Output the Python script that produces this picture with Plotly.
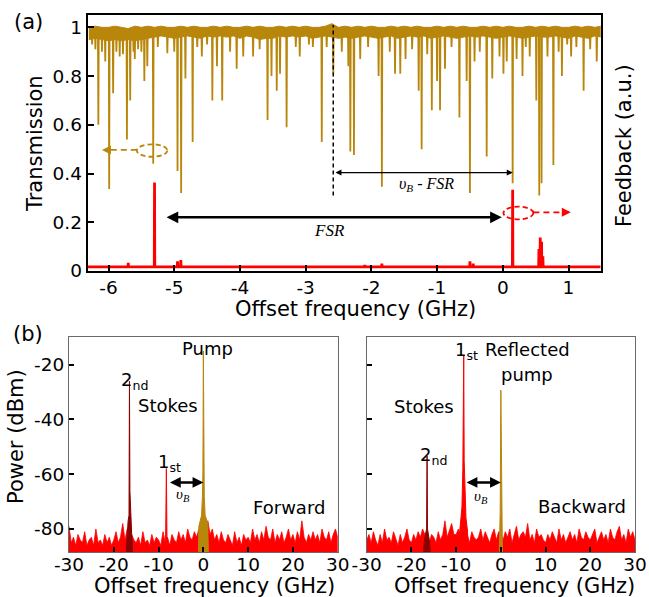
import plotly.graph_objects as go

W, H = 649, 597
GOLD = "#B8860B"
RED = "#FF0000"
DARKRED = "#8B0000"
FONT = "DejaVu Sans"

# ---------------- Panel (a) data ----------------
band_start, band_step = -6.30, 0.10
band_upper = [
    1.00, 1.005, 1.00, 1.00, 1.005, 1.00, 0.995, 1.005, 1.00, 1.005,
    1.00, 1.005, 1.00, 1.00, 1.005, 1.00, 1.005, 1.00, 1.00, 1.005,
    1.00, 1.005, 1.00, 1.00, 1.005, 1.00, 1.005, 1.00, 1.00, 1.005,
    1.00, 1.005, 1.00, 1.005, 1.00, 1.00, 1.005, 1.015, 1.00, 1.005,
    1.00, 1.005, 1.00, 1.005, 1.00, 1.00, 1.005, 1.00, 1.005, 1.00,
    1.005, 1.00, 1.00, 1.005, 1.00, 1.005, 1.00, 1.005, 1.00, 1.00,
    1.005, 1.00, 1.005, 1.00, 1.005, 1.00, 1.00, 1.005, 1.00, 1.005,
    1.00, 1.005, 1.00, 1.00, 1.005, 1.00, 1.005, 1.00, 1.005,
]
band_lower = [
    0.95, 0.955, 0.95, 0.945, 0.95, 0.945, 0.95, 0.945, 0.95, 0.955,
    0.96, 0.965, 0.96, 0.955, 0.96, 0.965, 0.96, 0.955, 0.965, 0.96,
    0.965, 0.96, 0.965, 0.955, 0.965, 0.96, 0.95, 0.955, 0.955, 0.965,
    0.96, 0.965, 0.96, 0.965, 0.955, 0.96, 0.965, 0.96, 0.955, 0.96,
    0.955, 0.96, 0.965, 0.96, 0.955, 0.96, 0.965, 0.955, 0.96, 0.965,
    0.96, 0.965, 0.955, 0.96, 0.965, 0.96, 0.955, 0.96, 0.965, 0.96,
    0.965, 0.96, 0.955, 0.96, 0.965, 0.96, 0.955, 0.96, 0.965, 0.96,
    0.96, 0.965, 0.96, 0.955, 0.965, 0.96, 0.955, 0.965, 0.96,
]
dip_freq = [-6.25, -6.20, -6.155, -6.10, -6.05, -5.99, -5.93, -5.88, -5.83, -5.78,
            -5.72, -5.67, -5.62, -5.60, -5.55, -5.50, -5.455, -5.41, -5.32, -5.25,
            -5.105, -5.00, -4.95, -4.895, -4.83, -4.72, -4.65, -4.58, -4.50, -4.42,
            -4.35, -4.27, -4.15, -4.05, -3.95, -3.80, -3.70, -3.58, -3.52, -3.44,
            -3.39, -3.29, -3.15, -3.09, -2.95, -2.89, -2.755, -2.68, -2.58, -2.45,
            -2.35, -2.32, -2.265, -2.17, -2.05, -1.89, -1.84, -1.72, -1.64, -1.56,
            -1.48, -1.38, -1.28, -1.235, -1.15, -1.08, -1.00, -0.955, -0.88, -0.78,
            -0.66, -0.55, -0.50, -0.43, -0.35, -0.245, -0.16, -0.05, 0.01, 0.06,
            0.15, 0.21, 0.30, 0.35, 0.41, 0.51, 0.555, 0.59, 0.68, 0.77,
            0.85, 0.90, 0.98, 1.04, 1.12, 1.23, 1.33, 1.43]
dip_trans = [0.93, 0.91, 0.60, 0.90, 0.86, 0.337, 0.73, 0.90, 0.88, 0.89,
             0.54, 0.70, 0.90, 0.87, 0.91, 0.90, 0.78, 0.84, 0.44, 0.92,
             0.894, 0.90, 0.41, 0.32, 0.79, 0.53, 0.92, 0.88, 0.93, 0.70,
             0.84, 0.70, 0.90, 0.83, 0.88, 0.88, 0.91, 0.62, 0.80, 0.74,
             0.81, 0.59, 0.92, 0.88, 0.93, 0.92, 0.53, 0.92, 0.81, 0.90,
             0.84, 0.49, 0.476, 0.87, 0.92, 0.80, 0.346, 0.90, 0.81, 0.81,
             0.87, 0.91, 0.74, 0.50, 0.89, 0.66, 0.78, 0.66, 0.83, 0.92,
             0.63, 0.78, 0.32, 0.86, 0.90, 0.47, 0.79, 0.88, 0.81, 0.86,
             0.36, 0.87, 0.80, 0.92, 0.88, 0.70, 0.31, 0.36, 0.88, 0.435,
             0.90, 0.80, 0.93, 0.88, 0.92, 0.74, 0.91, 0.86]
dip_top = 0.97

feedback_base = 0.017
feedback_spike_freq = [-5.70, -5.30, -4.95, -4.90, -2.10, -1.84, -0.50, -0.45, 0.15, 0.55, 0.57, 0.59, 0.61]
feedback_spike_val = [0.034, 0.363, 0.04, 0.045, 0.025, 0.03, 0.04, 0.03, 0.333, 0.09, 0.137, 0.12, 0.06]

a_xticks = [-6, -5, -4, -3, -2, -1, 0, 1]
a_xticktext = ["-6", "-5", "-4", "-3", "-2", "-1", "0", "1"]
a_yticks = [0, 0.2, 0.4, 0.6, 0.8, 1]
a_yticktext = ["0", "0.2", "0.4", "0.6", "0.8", "1"]

# ---------------- Panel (b) data ----------------
noise_start, noise_step = -30.0, 0.5
fwd_noise = [
    -79, -85, -83, -86, -82, -84, -85, -81, -86, -84,
    -83, -86, -80, -85, -84, -86, -82, -85, -83, -86,
    -84, -81, -85, -83, -78, -84, -80, -85, -82, -84,
    -85, -83, -86, -81, -85, -84, -86, -82, -85, -83,
    -84, -86, -81, -85, -83, -86, -82, -84, -85, -81,
    -84, -82, -85, -80, -83, -84, -81, -83, -80, -82,
    -81, -80, -77, -82, -80, -84, -82, -85, -81, -84,
    -85, -82, -84, -86, -81, -85, -83, -86, -82, -84,
    -83, -85, -80, -84, -82, -85, -81, -84, -79, -83,
    -84, -80, -85, -82, -84, -81, -85, -83, -80, -84,
    -82, -85, -81, -84, -77, -83, -85, -82, -84, -81,
    -84, -82, -85, -80, -83, -84, -81, -85, -82, -80,
    -83,
]
bwd_noise = [
    -84, -82, -85, -81, -84, -86, -82, -85, -80, -84,
    -83, -85, -81, -84, -86, -82, -85, -83, -80, -84,
    -85, -82, -84, -81, -83, -80, -82, -84, -85, -82,
    -83, -85, -81, -84, -82, -77, -83, -80, -78, -82,
    -82, -80, -83, -81, -84, -82, -85, -81, -83, -84,
    -83, -80, -84, -81, -83, -85, -82, -80, -84, -81,
    -82, -84, -81, -83, -80, -85, -82, -79, -84, -82,
    -81, -83, -78, -84, -82, -85, -80, -83, -82, -84,
    -85, -82, -84, -81, -83, -85, -80, -84, -82, -85,
    -83, -81, -84, -82, -85, -80, -83, -84, -81, -83,
    -84, -82, -80, -85, -83, -81, -84, -82, -85, -80,
    -83, -84, -81, -79, -84, -82, -85, -80, -83, -81,
    -84,
]
fwd_stokes2_x = [-17.2, -17.0, -16.8, -16.6, -16.5, -16.4, -16.3, -16.2, -16.0, -15.8]
fwd_stokes2_y = [-88, -80, -77, -75, -26, -66, -72, -78, -82, -88]
fwd_stokes1_x = [-8.45, -8.26, -8.1]
fwd_stokes1_y = [-88, -57.9, -88]
fwd_pump_x = [-1.1, -1.0, -0.7, -0.4, -0.2, -0.1, 0.0, 0.1, 0.2, 0.4, 0.7, 1.0, 1.1]
fwd_pump_y = [-88, -79, -77, -75, -68, -59, -15, -59, -68, -75, -77, -78, -88]

bwd_stokes2_x = [-17.3, -17.0, -16.6, -16.5, -16.4, -16.0, -15.8]
bwd_stokes2_y = [-88, -83, -80, -53.4, -80, -84, -88]
bwd_stokes1_x = [-9.6, -9.2, -8.9, -8.7, -8.5, -8.4, -8.3, -8.2, -8.0, -7.8, -7.5, -7.2]
bwd_stokes1_y = [-88, -80, -77, -72, -58, -45, -16.6, -55, -68, -76, -80, -88]
bwd_pump_x = [-0.35, -0.15, 0.0, 0.15, 0.35]
bwd_pump_y = [-88, -74, -29.3, -74, -88]

b_xticks = [-30, -20, -10, 0, 10, 20, 30]
b_xticktext = ["-30", "-20", "-10", "0", "10", "20", "30"]
b_yticks = [-80, -60, -40, -20]
b_yticktext = ["-80", "-60", "-40", "-20"]
B_FLOOR = -90

# ---------------- build ----------------
fig = go.Figure()

# transmission (gold): dense band drawn between its two envelopes, then the dips
bx = [band_start + i * band_step for i in range(len(band_upper))]
fig.add_trace(go.Scatter(x=bx, y=band_lower, mode="lines", line=dict(color=GOLD, width=1.0),
                         xaxis="x", yaxis="y", showlegend=False, hoverinfo="skip"))
fig.add_trace(go.Scatter(x=bx, y=band_upper, mode="lines", line=dict(color=GOLD, width=1.0),
                         fill="tonexty", fillcolor=GOLD,
                         xaxis="x", yaxis="y", showlegend=False, hoverinfo="skip"))
dx, dy = [], []
for f, v in zip(dip_freq, dip_trans):
    dx += [f - 0.006, f, f + 0.006, None]
    dy += [dip_top, v, dip_top, None]
fig.add_trace(go.Scatter(x=dx, y=dy, mode="lines", line=dict(color=GOLD, width=1.8),
                         xaxis="x", yaxis="y", showlegend=False, hoverinfo="skip"))

# feedback (red)
fx, fy = [-6.32], [feedback_base]
for f, v in zip(feedback_spike_freq, feedback_spike_val):
    fx += [f - 0.004, f, f + 0.004]
    fy += [feedback_base, v, feedback_base]
fx.append(1.49)
fy.append(feedback_base)
fig.add_trace(go.Scatter(x=fx, y=fy, mode="lines", line=dict(color=RED, width=2.8),
                         xaxis="x", yaxis="y2", showlegend=False, hoverinfo="skip"))


def filled(xs, ys, color, xa, ya, lw=0.8):
    return go.Scatter(x=list(xs) + [xs[-1], xs[0]], y=list(ys) + [B_FLOOR, B_FLOOR],
                      mode="lines", fill="toself", fillcolor=color,
                      line=dict(color=color, width=lw), xaxis=xa, yaxis=ya,
                      showlegend=False, hoverinfo="skip")


nx = [noise_start + i * noise_step for i in range(len(fwd_noise))]
fig.add_trace(filled(nx, fwd_noise, RED, "x3", "y3"))
fig.add_trace(filled(fwd_stokes2_x, fwd_stokes2_y, DARKRED, "x3", "y3", 1.0))
fig.add_trace(filled(fwd_stokes1_x, fwd_stokes1_y, RED, "x3", "y3", 1.0))
fig.add_trace(filled(fwd_pump_x, fwd_pump_y, GOLD, "x3", "y3", 1.0))

nx2 = [noise_start + i * noise_step for i in range(len(bwd_noise))]
fig.add_trace(filled(nx2, bwd_noise, RED, "x4", "y4"))
fig.add_trace(filled(bwd_stokes2_x, bwd_stokes2_y, DARKRED, "x4", "y4", 1.0))
fig.add_trace(filled(bwd_stokes1_x, bwd_stokes1_y, RED, "x4", "y4", 1.0))
fig.add_trace(filled(bwd_pump_x, bwd_pump_y, GOLD, "x4", "y4", 1.0))

tickfont = dict(family=FONT, size=18.5, color="black")
a_ax = dict(showgrid=False, zeroline=False, showline=True, mirror=True, linecolor="black",
            linewidth=2, ticks="inside", ticklen=6, tickwidth=1.5, tickcolor="black",
            tickfont=tickfont, automargin=False)
b_ax = dict(showgrid=False, zeroline=False, showline=True, mirror=True, linecolor="#6a6a6a",
            linewidth=1.2, ticks="inside", ticklen=5, tickwidth=1.5, tickcolor="black",
            tickfont=tickfont, automargin=False)

fig.update_layout(
    width=W, height=H, margin=dict(l=0, r=0, t=0, b=0, autoexpand=False),
    paper_bgcolor="white", plot_bgcolor="white",
    xaxis=dict(a_ax, domain=[87.7 / W, 600.7 / W], range=[-6.317, 1.49], tickvals=a_xticks,
               ticktext=a_xticktext, anchor="y", ticklabelstandoff=-1),
    yaxis=dict(a_ax, domain=[1 - 271 / H, 1 - 14.7 / H], range=[0, 1.052], tickvals=a_yticks,
               ticktext=a_yticktext, anchor="x"),
    yaxis2=dict(overlaying="y", side="right", range=[0, 1.052], showticklabels=False, ticks="",
                showgrid=False, zeroline=False, showline=False, anchor="x", automargin=False),
    xaxis3=dict(b_ax, domain=[69 / W, 337.7 / W], range=[-30, 30], tickvals=b_xticks,
                ticktext=b_xticktext, anchor="y3", ticklabelstandoff=-4),
    yaxis3=dict(b_ax, domain=[1 - 552 / H, 1 - 337.3 / H], range=[-88.4, -10], tickvals=b_yticks,
                ticktext=b_yticktext, anchor="x3"),
    xaxis4=dict(b_ax, domain=[366.7 / W, 635 / W], range=[-30, 30], tickvals=b_xticks,
                ticktext=b_xticktext, anchor="y4", ticklabelstandoff=-4),
    yaxis4=dict(b_ax, domain=[1 - 552 / H, 1 - 337.3 / H], range=[-88.4, -10], tickvals=b_yticks,
                showticklabels=False, anchor="x4"),
)


def ptxt(text, px, py, size=21, angle=0, family=FONT):
    fig.add_annotation(text=text, x=px / W, y=1 - py / H, xref="paper", yref="paper",
                       showarrow=False, textangle=angle, xanchor="center", yanchor="middle",
                       font=dict(family=family, size=size, color="black"))


ptxt("(a)", 28, 22)
ptxt("(b)", 28, 334)
ptxt("Transmission", 35, 144, angle=-90)
ptxt("Feedback (a.u.)", 624, 146, angle=-90)
ptxt("Offset frequency (GHz)", 355, 309)
ptxt("Power (dBm)", 16, 437, angle=-90)
ptxt("Offset frequency (GHz)", 214, 586)
ptxt("Offset frequency (GHz)", 514, 586)

# panel (b) labels
ptxt("Pump", 207, 348, 18)
ptxt("2<sub>nd</sub>", 134, 381, 18)
ptxt("Stokes", 168, 405, 18)
ptxt("1<sub>st</sub>", 169, 463, 18)
ptxt("Forward", 289, 507, 18)
ptxt("1<sub>st</sub>", 467, 351, 18)
ptxt("Reflected", 527, 349, 18)
ptxt("pump", 527, 374, 18)
ptxt("Stokes", 424, 406, 18)
ptxt("2<sub>nd</sub>", 433, 456, 18)
ptxt("Backward", 582, 506, 18)
ptxt("<i>υ<sub>B</sub></i>", 183, 495, 15, family="Liberation Serif")
ptxt("<i>υ<sub>B</sub></i>", 481, 497, 15, family="Liberation Serif")


def darrow(x0, x1, y, xr, yr, width, size, color="black"):
    fig.add_annotation(x=x1, y=y, ax=x0, ay=y, xref=xr, yref=yr, axref=xr, ayref=yr,
                       text="", showarrow=True, arrowhead=2, arrowside="end+start",
                       arrowsize=size, arrowwidth=width, arrowcolor=color)


darrow(-7.8, 0, -63, "x3", "y3", 2.4, 0.9)
darrow(-8.0, 0, -63, "x4", "y4", 2.4, 0.9)

# panel (a) annotations
darrow(-5.14, -0.015, 0.2205, "x", "y", 2.6, 0.9)
darrow(-2.57, 0.152, 0.404, "x", "y", 1.2, 1.0)
fig.add_shape(type="line", x0=-2.58, x1=-2.58, y0=0.31, y1=1.01, xref="x", yref="y",
              line=dict(color="black", width=1.5, dash="4px,3px"))
fig.add_annotation(text="<i>υ<sub>B</sub> - FSR</i>", x=-1.16, y=0.357, xref="x", yref="y",
                   showarrow=False, font=dict(family="Liberation Serif", size=16, color="black"))
fig.add_annotation(text="<i>FSR</i>", x=-2.64, y=0.168, xref="x", yref="y",
                   showarrow=False, font=dict(family="Liberation Serif", size=17, color="black"))

# gold ellipse + dashed arrow (left)
fig.add_shape(type="circle", x0=-5.57, x1=-5.105, y0=0.469, y1=0.520, xref="x", yref="y",
              line=dict(color=GOLD, width=1.8, dash="5px,3px"))
fig.add_shape(type="line", x0=-5.57, x1=-6.05, y0=0.497, y1=0.497, xref="x", yref="y",
              line=dict(color=GOLD, width=1.8, dash="6px,4px"))
fig.add_annotation(x=-6.10, y=0.497, ax=-5.98, ay=0.497, xref="x", yref="y", axref="x", ayref="y",
                   text="", showarrow=True, arrowhead=2, arrowsize=1.2, arrowwidth=1.5, arrowcolor=GOLD)
# red ellipse + dashed arrow (right)
fig.add_shape(type="circle", x0=0.01, x1=0.466, y0=0.212, y1=0.264, xref="x", yref="y",
              line=dict(color=RED, width=1.8, dash="5px,3px"))
fig.add_shape(type="line", x0=0.466, x1=0.99, y0=0.241, y1=0.241, xref="x", yref="y",
              line=dict(color=RED, width=1.8, dash="6px,4px"))
fig.add_annotation(x=1.035, y=0.241, ax=0.92, ay=0.241, xref="x", yref="y", axref="x", ayref="y",
                   text="", showarrow=True, arrowhead=2, arrowsize=1.2, arrowwidth=1.5, arrowcolor=RED)

fig.write_html("out.html", config={"displayModeBar": False},
               post_script="document.body.style.margin='0';")
